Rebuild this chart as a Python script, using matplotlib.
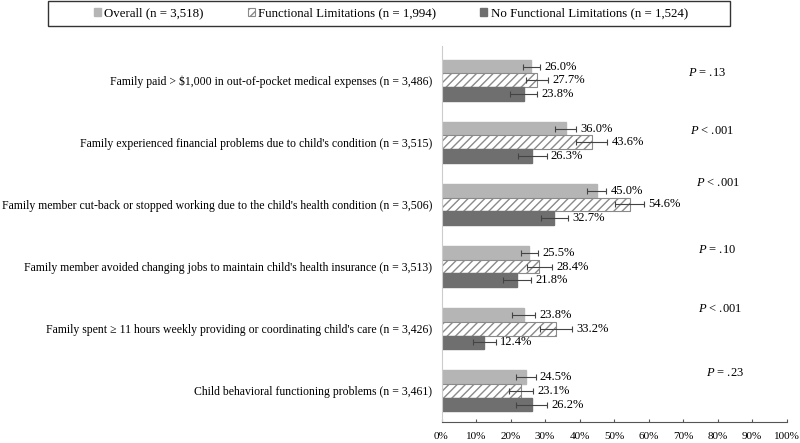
import matplotlib
matplotlib.use("Agg")
import matplotlib.pyplot as plt
from matplotlib.patches import Rectangle
import numpy as np

plt.rcParams['font.family'] = ['Liberation Serif', 'DejaVu Serif']
plt.rcParams['mathtext.fontset'] = 'custom'
plt.rcParams['mathtext.it'] = 'Liberation Serif:italic'
plt.rcParams['mathtext.rm'] = 'Liberation Serif'
plt.rcParams['hatch.color'] = '#8a8a8a'
plt.rcParams['hatch.linewidth'] = 1.0

categories = [
    "Family paid > $1,000 in out-of-pocket medical expenses (n = 3,486)",
    "Family experienced financial problems due to child's condition (n = 3,515)",
    "Family member cut-back or stopped working due to the child's health condition (n = 3,506)",
    "Family member avoided changing jobs to maintain child's health insurance (n = 3,513)",
    "Family spent \u2265 11 hours weekly providing or coordinating child's care (n = 3,426)",
    "Child behavioral functioning problems (n = 3,461)",
]
series_names = ["Overall (n = 3,518)", "Functional Limitations (n = 1,994)",
                "No Functional Limitations (n = 1,524)"]
overall = [26.0, 36.0, 45.0, 25.5, 23.8, 24.5]
functional = [27.7, 43.6, 54.6, 28.4, 33.2, 23.1]
no_functional = [23.8, 26.3, 32.7, 21.8, 12.4, 26.2]
overall_err = [2.5, 3.1, 2.8, 2.6, 3.3, 2.8]
functional_err = [3.3, 4.5, 4.2, 3.7, 4.7, 3.5]
no_functional_err = [3.9, 4.2, 4.0, 4.1, 3.4, 4.5]
p_labels = ["= .13", "< .001", "< .001", "= .10", "< .001", "= .23"]
p_x = [71.5, 72.1, 73.8, 74.4, 74.4, 76.7]
p_dy = [-0.11, -0.18, -0.34, -0.27, -0.32, -0.29]
xticks = list(range(0, 101, 10))

W, H = 800, 443
fig = plt.figure(figsize=(8, 4.43), dpi=100)
ax = fig.add_axes([441.5 / W, 1 - 422 / H, 345 / W, (422 - 46) / H])

n = len(categories)
centers = np.arange(n)
h = 0.22
series = [
    (overall, overall_err, dict(color='#b5b5b5', edgecolor='#b5b5b5')),
    (functional, functional_err, dict(color='white', edgecolor='#8a8a8a', hatch='////', linewidth=0.8)),
    (no_functional, no_functional_err, dict(color='#6f6f6f', edgecolor='#6f6f6f')),
]
offsets = [-h, 0, h]
handles = []
for (vals, errs, style), off, name in zip(series, offsets, series_names):
    y = centers + off
    b = ax.barh(y, vals, height=h, label=name, **style)
    handles.append(b)
    ax.errorbar(vals, y, xerr=errs, fmt='none', ecolor='#444444', elinewidth=0.8,
                capsize=2.2, capthick=0.8)
    for v, e, yy in zip(vals, errs, y):
        ax.text(v + e + 1.2, yy, f"{v:.1f}%", va='center', ha='left', fontsize=9)

for i, (lab, px, dy) in enumerate(zip(p_labels, p_x, p_dy)):
    ax.text(px, centers[i] + dy, r"$\mathit{P}$" + " " + lab, va='center', ha='left', fontsize=9)

ax.set_xlim(0, 100)
ax.set_ylim(n - 0.5, -0.55)
ax.set_xticks(xticks)
ax.set_xticklabels([f"{t}%" for t in xticks], fontsize=8)
ax.set_yticks(centers)
ax.set_yticklabels(categories, fontsize=8.5)
ax.tick_params(axis='y', length=0, pad=6.8)
ax.tick_params(axis='x', direction='in', length=2.5, width=0.8, color='#555555', pad=7)
for s in ['top', 'right']:
    ax.spines[s].set_visible(False)
ax.spines['left'].set_color('#cccccc')
ax.spines['bottom'].set_color('#555555')

# legend with custom frame
fig.patches.append(Rectangle((48 / W, 1 - 26 / H), (730 - 48) / W, 25 / H,
                             transform=fig.transFigure, fill=False,
                             edgecolor='#333333', linewidth=1.0))
leg = fig.legend(handles=handles, labels=series_names, loc='center',
                 bbox_to_anchor=(391 / W, 1 - 13.5 / H), ncol=3, fontsize=9.3,
                 frameon=False, handlelength=0.55, handleheight=0.55,
                 handletextpad=0.25, columnspacing=3.4, borderpad=0.2)

fig.savefig("out.png", dpi=100)
